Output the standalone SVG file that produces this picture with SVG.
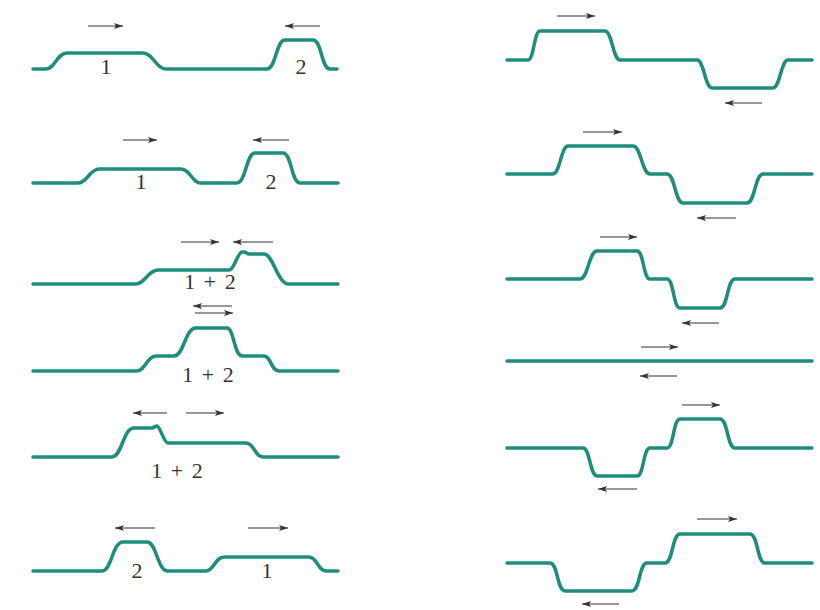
<svg xmlns="http://www.w3.org/2000/svg" width="820" height="610" viewBox="0 0 820 610">
<style>
.w{fill:none;stroke:#1f8d7d;stroke-width:3.5;stroke-linecap:round;stroke-linejoin:round}
.a{stroke:#333;stroke-width:1.2;marker-end:url(#ah)}
.t{font-family:"Liberation Serif","Times New Roman",serif;font-size:22px;fill:#333;text-anchor:middle;word-spacing:3px}
</style>
<defs>
<marker id="ah" markerUnits="userSpaceOnUse" markerWidth="10" markerHeight="6" refX="9" refY="3" orient="auto">
<path d="M0,0 L9,3 L0,6 L2,3 z" fill="#333"/>
</marker>
</defs>
<rect width="820" height="610" fill="#fff"/>
<g id="L1">
<path class="w" d="M33,69 L46,69 C55,69 57,53 67,53 L143,53 C153,53 156,69 166,69 L267,69 C276,69 276,40 285,40 L313,40 C322,40 321,69 330,69 L337,69"/>
<text class="t" x="106" y="74">1</text><text class="t" x="301" y="74">2</text>
</g>
<g id="L2">
<path class="w" d="M33,183 L78,183 C87,183 90,169 99,169 L181,169 C190,169 192,183 201,183 L237,183 C246,183 246,153 255,153 L283,153 C292,153 291,183 300,183 L338,183"/>
<text class="t" x="141" y="189">1</text><text class="t" x="271" y="189">2</text>
</g>
<g id="L3">
<path class="w" d="M33,284 L136,284 C145,284 148,270 158,270 L229,270 C234,270 238,252 242,252 L244,252 C246,252 247,254 249,254 L264,254 C273,254 278,284 288,284 L338,284"/>
<text class="t" x="210" y="289">1 + 2</text>
</g>
<g id="L4">
<path class="w" d="M33,371 L137,371 C145,371 147,356 156,356 L174,356 C184,356 185,328 196,328 L227,328 C234,328 234,356 242,356 L264,356 C271,356 271,371 279,371 L338,371"/>
<text class="t" x="208" y="382">1 + 2</text>
</g>
<g id="L5">
<path class="w" d="M33,457 L112,457 C122,457 123,428 134,428 L152,428 C154,428 155,426 157,426 C160,426 164,443 168,443 L246,443 C254,443 255,457 263,457 L338,457"/>
<text class="t" x="177" y="478">1 + 2</text>
</g>
<g id="L6">
<path class="w" d="M33,571 L102,571 C112,571 112,542 123,542 L147,542 C157,542 157,571 168,571 L206,571 C214,571 215,557 224,557 L309,557 C317,557 318,571 326,571 L338,571"/>
<text class="t" x="137" y="578">2</text><text class="t" x="267" y="578">1</text>
</g>
<g id="R1"><path class="w" d="M507,60 L528,60 C534,60 534,31 540,31 L605,31 C612,31 613,60 620,60 L697,60 C704,60 705,88 712,88 L773,88 C780,88 781,60 788,60 L812,60"/></g>
<g id="R2"><path class="w" d="M507,174 L553,174 C560,174 561,146 568,146 L633,146 C641,146 642,174 650,174 L667,174 C675,174 675,203 683,203 L747,203 C755,203 755,174 763,174 L812,174"/></g>
<g id="R3"><path class="w" d="M507,279 L580,279 C588,279 589,251 597,251 L637,251 C644,251 643,279 650,279 L667,279 C674,279 673,308 680,308 L720,308 C728,308 727,279 735,279 L812,279"/></g>
<g id="R4"><path class="w" d="M507,361 L812,361"/></g>
<g id="R5"><path class="w" d="M507,448 L583,448 C590,448 590,476 597,476 L637,476 C644,476 643,448 650,448 L667,448 C674,448 673,419 680,419 L720,419 C728,419 727,448 735,448 L812,448"/></g>
<g id="R6"><path class="w" d="M507,563 L550,563 C558,563 557,591 565,591 L632,591 C640,591 639,563 647,563 L665,563 C673,563 672,534 680,534 L750,534 C758,534 757,563 765,563 L812,563"/></g>
<g id="arrows">
<line class="a" x1="88" y1="26" x2="123" y2="26"/><line class="a" x1="320" y1="26" x2="285" y2="26"/>
<line class="a" x1="123" y1="140" x2="157" y2="140"/><line class="a" x1="289" y1="140" x2="253" y2="140"/>
<line class="a" x1="181" y1="242" x2="219" y2="242"/><line class="a" x1="273" y1="242" x2="233" y2="242"/>
<line class="a" x1="232" y1="306" x2="193" y2="306"/><line class="a" x1="195" y1="313" x2="233" y2="313"/>
<line class="a" x1="167" y1="413" x2="133" y2="413"/><line class="a" x1="186" y1="413" x2="224" y2="413"/>
<line class="a" x1="155" y1="528" x2="115" y2="528"/><line class="a" x1="248" y1="528" x2="288" y2="528"/>
<line class="a" x1="557" y1="16" x2="595" y2="16"/><line class="a" x1="762" y1="103" x2="725" y2="103"/>
<line class="a" x1="583" y1="132" x2="622" y2="132"/><line class="a" x1="736" y1="218" x2="697" y2="218"/>
<line class="a" x1="600" y1="237" x2="637" y2="237"/><line class="a" x1="719" y1="323" x2="682" y2="323"/>
<line class="a" x1="641" y1="347" x2="678" y2="347"/><line class="a" x1="677" y1="376" x2="640" y2="376"/>
<line class="a" x1="682" y1="405" x2="720" y2="405"/><line class="a" x1="637" y1="489" x2="598" y2="489"/>
<line class="a" x1="697" y1="519" x2="737" y2="519"/><line class="a" x1="619" y1="604" x2="582" y2="604"/>
</g>
</svg>
